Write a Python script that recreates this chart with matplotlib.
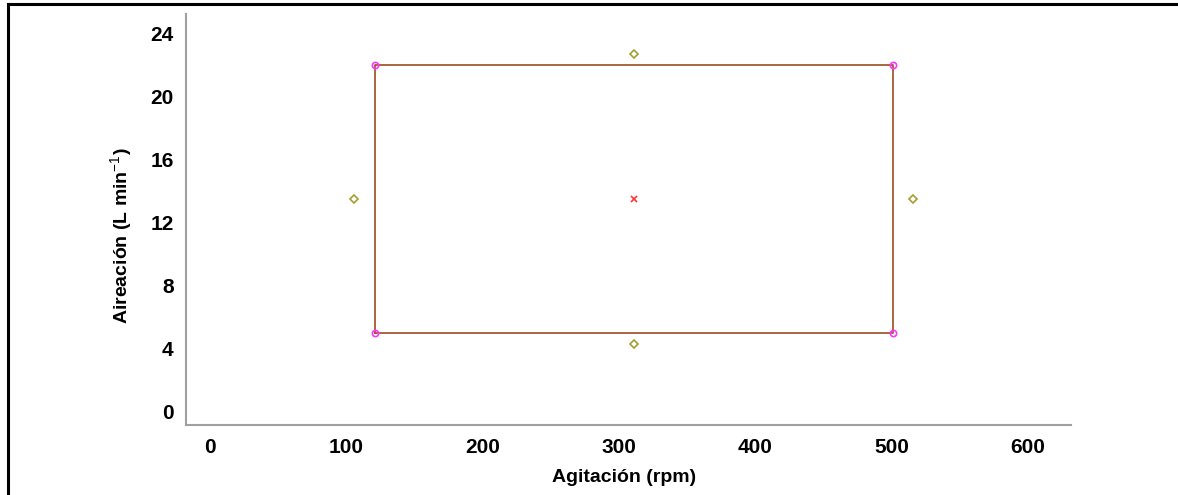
#!/usr/bin/env python3

# numpy
import numpy as np
# plotting
import matplotlib
matplotlib.use("Agg")
import matplotlib.pyplot as plt
from matplotlib.lines import Line2D

# central composite design: agitation (rpm) vs aeration (L/min)
factorial_agitacion = [121, 501, 501, 121]
factorial_aireacion = [5.0, 5.0, 22.0, 22.0]
axial_agitacion = [106, 516, 311, 311]
axial_aireacion = [13.5, 13.5, 4.3, 22.7]
central_agitacion = [311]
central_aireacion = [13.5]

x_ticks = [0, 100, 200, 300, 400, 500, 600]
y_ticks = [0, 4, 8, 12, 16, 20, 24]

plt.rcParams['font.family'] = ['Liberation Sans', 'DejaVu Sans']
plt.rcParams['mathtext.fontset'] = 'custom'
plt.rcParams['mathtext.rm'] = 'Liberation Sans'
plt.rcParams['mathtext.it'] = 'Liberation Sans'
plt.rcParams['mathtext.bf'] = 'Liberation Sans:bold'

fig = plt.figure(figsize=(11.78, 4.95), dpi=100)
ax = fig.add_axes([0.1579, 0.1414, 0.7513, 0.8303])

# factorial rectangle
rect_x = np.append(factorial_agitacion, factorial_agitacion[0])
rect_y = np.append(factorial_aireacion, factorial_aireacion[0])
ax.plot(rect_x, rect_y, color='#a5592f', linewidth=1.3, zorder=2)
ax.plot(factorial_agitacion, factorial_aireacion, linestyle='none', marker='o',
        markersize=4.5, markerfacecolor='none', markeredgecolor='#ff33ff',
        markeredgewidth=1.2, zorder=3)
# axial points
ax.plot(axial_agitacion, axial_aireacion, linestyle='none', marker='D',
        markersize=4.5, markerfacecolor='none', markeredgecolor='#a3a033',
        markeredgewidth=1.2, zorder=3)
# central point
ax.plot(central_agitacion, central_aireacion, linestyle='none', marker='x',
        markersize=5, markeredgecolor='#ff3333', markeredgewidth=1.2, zorder=3)

ax.set_xlim(-17.6, 631.7)
ax.set_ylim(-0.85, 25.25)
ax.set_xticks(x_ticks)
ax.set_yticks(y_ticks)
ax.tick_params(axis='both', length=0, labelsize=15)
ax.tick_params(axis='x', pad=9)
ax.tick_params(axis='y', pad=9)
for label in ax.get_xticklabels() + ax.get_yticklabels():
    label.set_fontweight('bold')

for side in ['top', 'right']:
    ax.spines[side].set_visible(False)
for side in ['left', 'bottom']:
    ax.spines[side].set_color('#a0a0a0')
    ax.spines[side].set_linewidth(1.5)

ax.set_xlabel('Agitación (rpm)', fontsize=14, fontweight='bold')
ax.set_ylabel('Aireación (L min$^{-1}$)', fontsize=14, fontweight='bold')
ax.xaxis.set_label_coords(0.495, -0.107)
ax.yaxis.set_label_coords(-0.0587, 0.46)

# frame lines along the top and left edges of the figure
fig.add_artist(Line2D([8 / 1178, 8 / 1178], [0, 1 - 4 / 495], transform=fig.transFigure,
                      color='black', linewidth=2.2))
fig.add_artist(Line2D([8 / 1178, 1], [1 - 4 / 495, 1 - 4 / 495], transform=fig.transFigure,
                      color='black', linewidth=2.2))

fig.savefig('out.png', dpi=100)
